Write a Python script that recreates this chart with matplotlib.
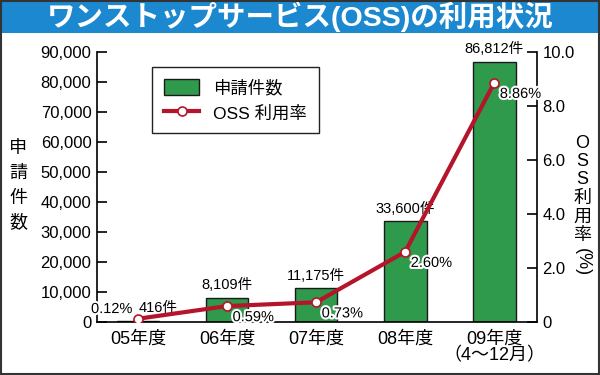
import matplotlib
matplotlib.use("Agg")
import matplotlib.pyplot as plt
import matplotlib.patheffects as pe
from matplotlib.patches import Rectangle
from matplotlib.lines import Line2D

plt.rcParams['font.family'] = ['Liberation Sans', 'Noto Sans CJK JP', 'DejaVu Sans']

categories = ['05年度', '06年度', '07年度', '08年度', '09年度\n（4〜12月）']
applications = [416, 8109, 11175, 33600, 86812]
oss_rate = [0.12, 0.59, 0.73, 2.60, 8.86]
count_labels = ['416件', '8,109件', '11,175件', '33,600件', '86,812件']
rate_labels = ['0.12%', '0.59%', '0.73%', '2.60%', '8.86%']
left_ticks = [0, 10000, 20000, 30000, 40000, 50000, 60000, 70000, 80000, 90000]
left_ticklabels = ['0', '10,000', '20,000', '30,000', '40,000', '50,000', '60,000', '70,000', '80,000', '90,000']
right_ticks = [0, 2, 4, 6, 8, 10]
right_ticklabels = ['0', '2.0', '4.0', '6.0', '8.0', '10.0']
title = 'ワンストップサービス(OSS)の利用状況'

GREEN = '#2f9a4c'
RED = '#b5152b'
BLUE = '#1b88d0'

fig = plt.figure(figsize=(6, 3.75), dpi=100)
fig.patch.set_facecolor('white')

# title bar
fig.patches.append(Rectangle((0, 1 - 33/375), 1, 33/375, transform=fig.transFigure,
                             facecolor=BLUE, edgecolor='none', zorder=0))
fig.text(0.5, 1 - 17/375, title, ha='center', va='center', color='white',
         fontsize=20.5, fontweight='bold')
# outer border
fig.patches.append(Rectangle((0.002, 0.003), 0.996, 0.994, transform=fig.transFigure,
                             facecolor='none', edgecolor='#333333', linewidth=1.5, zorder=10))

ax = fig.add_axes([97/600, 1 - 322/375, (537-97)/600, (322-52)/375])
x = list(range(len(categories)))
ax.bar(x, applications, width=0.48, color=GREEN, edgecolor='#1a1a1a', linewidth=1.0, zorder=2)
ax.set_xlim(-0.46, 4.48)
ax.set_ylim(0, 90000)
ax.set_yticks(left_ticks)
ax.set_yticklabels(left_ticklabels, fontsize=12)
ax.tick_params(axis='y', direction='in', length=7, width=1.2, pad=4)
ax.set_xticks(x)
ax.set_xticklabels(categories, fontsize=13, linespacing=1.0)
ax.tick_params(axis='x', length=0, pad=6)
ax.spines['top'].set_visible(False)
ax.spines['right'].set_visible(False)
for s in ['left', 'bottom']:
    ax.spines[s].set_linewidth(1.2)

ax2 = ax.twinx()
ax2.set_ylim(0, 10)
ax2.plot(x, oss_rate, color=RED, linewidth=3.0, marker='o', markersize=6.5,
         markerfacecolor='white', markeredgecolor=RED, markeredgewidth=1.2, zorder=3)
ax2.set_yticks(right_ticks)
ax2.set_yticklabels(right_ticklabels, fontsize=12)
ax2.tick_params(axis='y', direction='in', length=7, width=1.2, pad=4)
ax2.spines['top'].set_visible(False)
ax2.spines['left'].set_visible(False)
ax2.spines['bottom'].set_visible(False)
ax2.spines['right'].set_linewidth(1.2)

# bar count labels
for i, (v, lab) in enumerate(zip(applications, count_labels)):
    dx = 0.23 if i == 0 else 0.0
    ax.annotate(lab, (i + dx, v), xytext=(0, 4), textcoords='offset points',
                ha='center', va='bottom', fontsize=10.5, zorder=5)

# rate labels
stroke = [pe.withStroke(linewidth=3, foreground='white')]
for i, (r, lab) in enumerate(zip(oss_rate, rate_labels)):
    if i == 0:
        t = ax2.annotate(lab, (i, r), xytext=(-4, 7), textcoords='offset points',
                         ha='right', va='center', fontsize=10.5, zorder=6)
    else:
        t = ax2.annotate(lab, (i, r), xytext=(4, -8), textcoords='offset points',
                         ha='left', va='center', fontsize=10.5, zorder=6)
    t.set_path_effects(stroke)

# axis labels (stacked vertical characters)
for k, ch in enumerate('申請件数'):
    fig.text(18/600, 1 - (148 + 25*k)/375, ch, ha='center', va='center', fontsize=13)
for k, ch in enumerate('OSS利用率'):
    fig.text(582/600, 1 - (143 + 18.5*k)/375, ch, ha='center', va='center', fontsize=13)
fig.text(582/600, 1 - 262/375, '(%)', ha='center', va='center', fontsize=13, rotation=-90)

# legend
handles = [Rectangle((0, 0), 1, 1, facecolor=GREEN, edgecolor='#1a1a1a', linewidth=1.0),
           Line2D([0], [0], color=RED, linewidth=3.0, marker='o', markersize=6.5,
                  markerfacecolor='white', markeredgecolor=RED, markeredgewidth=1.2)]
leg = ax2.legend(handles, ['申請件数', 'OSS 利用率'], loc='upper left',
                 bbox_to_anchor=((152-97)/440, 1 - (67-52)/270), fontsize=12.5,
                 frameon=True, fancybox=False, edgecolor='#222222', framealpha=1,
                 handlelength=2.0, handleheight=1.0, borderpad=0.7, labelspacing=0.5,
                 handletextpad=0.8, borderaxespad=0)
leg.get_frame().set_linewidth(1.0)

fig.savefig('out.png', dpi=100)
